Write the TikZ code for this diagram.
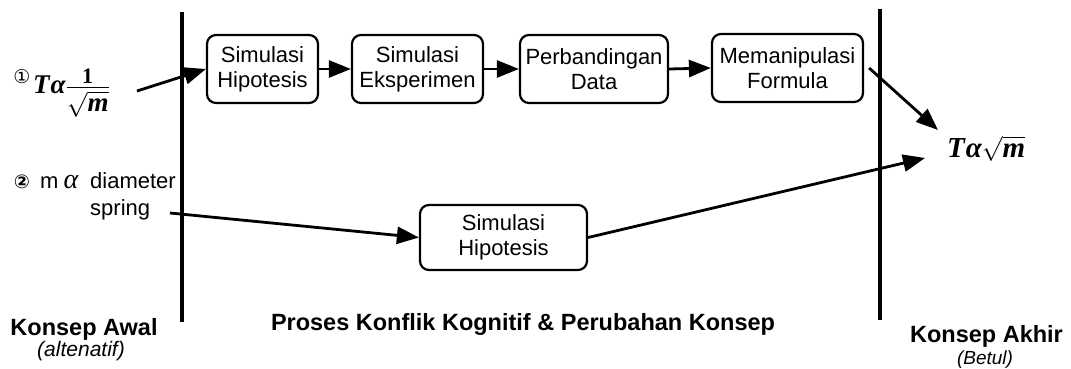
\documentclass[tikz,border=0pt]{standalone}
\usepackage{fontspec}
\setmainfont{Liberation Sans}
\newfontfamily\symfont{DejaVu Sans}
\newfontfamily\seriffont{Liberation Serif}
\usetikzlibrary{arrows.meta}
\begin{document}
\begin{tikzpicture}[x=1pt,y=-1pt,
  box/.style={draw, line width=2.2pt, rounded corners=9pt, align=center,
    font=\fontsize{22}{25}\selectfont, inner sep=0pt, minimum height=68pt},
  arr/.style={line width=2.8pt, -{Triangle[length=22pt,width=17pt]}},
  divider/.style={line width=3.2pt},
  txt/.style={font=\fontsize{22}{25}\selectfont, inner sep=0pt, anchor=base west},
  heading/.style={font=\fontsize{23.5}{27}\selectfont\bfseries, anchor=base, inner sep=0pt},
  subhead/.style={font=\fontsize{20}{24}\selectfont\itshape, anchor=base, inner sep=0pt}]
\useasboundingbox (0,0) rectangle (1071,369);

% dividers
\coordinate (L1) at (182,12);
\coordinate (L2) at (182,322);
\coordinate (R1) at (880,9);
\coordinate (R2) at (880,320);
\draw[divider] (L1) -- (L2);
\draw[divider] (R1) -- (R2);

% boxes
\node[box, minimum width=111pt] (b1) at (262.5,69) {Simulasi\\Hipotesis};
\node[box, minimum width=131pt] (b2) at (417.5,69) {Simulasi\\Eksperimen};
\node[box, minimum width=148pt] (b3) at (594,69) {Perbandingan\\Data};
\node[box, minimum width=151pt] (b4) at (787.5,68) {Memanipulasi\\Formula};
\node[box, minimum width=167pt, minimum height=65pt] (b5) at (503.5,237.5) {Simulasi\\Hipotesis};

% initial concept 1
\node[font=\symfont\fontsize{19}{19}\selectfont, inner sep=0pt] (c1) at (22,77) {①};
\node[anchor=base west, inner sep=0pt, font=\seriffont\fontsize{27}{30}\selectfont] (f1) at (33,93)
  {{\bfseries\itshape T\kern1ptα}$\frac{\raisebox{0pt}[\height][3pt]{\fontsize{22}{22}\selectfont\bfseries 1}}%
   {\raisebox{0pt}[\dimexpr\height+4pt][\depth]{$\sqrt{\hbox{\bfseries\itshape m}}$}}$};

% initial concept 2
\node[font=\symfont\bfseries\fontsize{19}{19}\selectfont, inner sep=0pt] (c2) at (22,182) {②};
\node[txt] (m2) at (40,188) {m};
\node[anchor=base, inner sep=0pt, font=\seriffont\itshape\fontsize{28}{30}\selectfont] (al2) at (71,188) {α};
\node[txt] (d2) at (90,188) {diameter};
\node[txt] (sp) at (90,215) {spring};

% final concept
\node[anchor=base west, inner sep=0pt, font=\seriffont\fontsize{29}{32}\selectfont] (res) at (947,157)
  {{\bfseries\itshape T\kern1ptα}$\sqrt{\hbox{\bfseries\itshape m}}$};

% connectors
\coordinate (s1) at (137,91);
\coordinate (s2) at (170,213);
\coordinate (t4) at (938,130);
\coordinate (t5) at (925,158);
\draw[arr] (s1) -- (b1.west);
\draw[arr] (b1.east) -- (b2.west);
\draw[arr] (b2.east) -- (b3.west);
\draw[arr] (b3.east) -- (b4.west);
\draw[arr] ([xshift=5pt]b4.east) -- (t4);
\draw[arr] (s2) -- (b5.west);
\draw[arr] (b5.east) -- (t5);

% bottom labels
\node[heading] (ka) at (84,335) {Konsep Awal};
\node[subhead, font=\fontsize{21}{24}\selectfont\itshape] (alt) at (81,356) {(altenatif)};
\node[heading] (pk) at (523,330) {Proses Konflik Kognitif \& Perubahan Konsep};
\node[heading] (kak) at (986.5,342) {Konsep Akhir};
\node[subhead, font=\fontsize{19}{22}\selectfont\itshape] (bt) at (985,364) {(Betul)};
\end{tikzpicture}
\end{document}
